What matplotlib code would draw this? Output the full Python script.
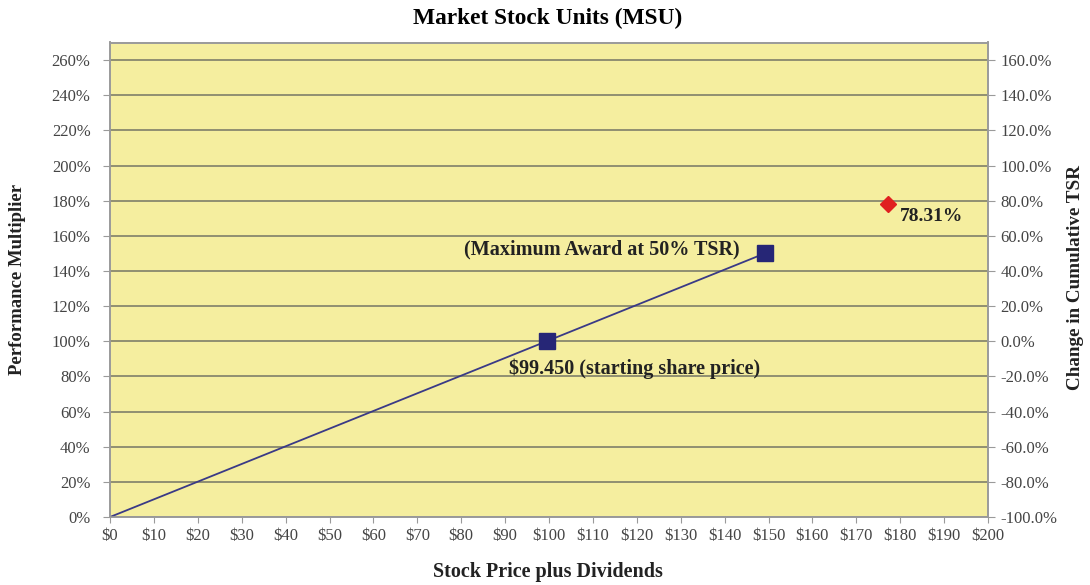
import matplotlib
matplotlib.use("Agg")
import matplotlib.pyplot as plt
import numpy as np

# Data
line_x = [0, 99.45, 149.175]
line_y = [0, 100, 150]
marker_x = [99.45, 149.175]
marker_y = [100, 150]
point_x = [177.3]
point_y = [178.31]
point_label = "78.31%"
start_label = "$99.450 (starting share price)"
max_label = "(Maximum Award at 50% TSR)"
x_ticks = list(range(0, 201, 10))
left_ticks = list(range(0, 261, 20))
right_ticks = list(range(-100, 161, 20))

plt.rcParams['font.family'] = ['Liberation Serif', 'DejaVu Serif']

fig = plt.figure(figsize=(10.9, 5.85), dpi=100)
ax = fig.add_axes([110/1090, 1-517/585, (988-110)/1090, (517-42.5)/585])
ax.set_facecolor('#F5EE9F')
ax.set_xlim(0, 200)
ax.set_ylim(0, 270)
ax.set_yticks(left_ticks)
ax.set_yticklabels([f"{v}%" for v in left_ticks])
ax.set_xticks(x_ticks)
ax.set_xticklabels([f"${v}" for v in x_ticks])
ax.grid(axis='y', color='#7f7f6a', linewidth=1.2)
ax.set_axisbelow(True)
for s in ax.spines.values():
    s.set_color('#9a9a9a')
    s.set_linewidth(1.2)
ax.tick_params(axis='y', direction='out', color='#9a9a9a', labelsize=12,
               labelcolor='#444444', length=5, pad=9)
ax.tick_params(axis='x', direction='out', color='#9a9a9a', labelsize=12,
               labelcolor='#444444', length=4, pad=4)

ax.plot(line_x, line_y, color='#3a3a86', linewidth=1.3, zorder=3)
ax.plot(marker_x, marker_y, linestyle='none', marker='s', markersize=12,
        color='#262676', zorder=4)
ax.plot(point_x, point_y, linestyle='none', marker='D', markersize=8.5,
        color='#e02020', zorder=4)

ax.annotate(start_label, (marker_x[0], marker_y[0]), xytext=(-27, -19.5),
            textcoords='offset points', fontsize=14.5, fontweight='bold',
            color='#222222', ha='left', va='center')
ax.annotate(max_label, (marker_x[1], marker_y[1]), xytext=(-18, 3),
            textcoords='offset points', fontsize=14.5, fontweight='bold',
            color='#222222', ha='right', va='center')
ax.annotate(point_label, (point_x[0], point_y[0]), xytext=(8, -9.4),
            textcoords='offset points', fontsize=14, fontweight='bold',
            color='#222222', ha='left', va='center')

ax2 = ax.twinx()
ax2.set_ylim(-100, 170)
ax2.set_yticks(right_ticks)
ax2.set_yticklabels([f"{v:.1f}%" for v in right_ticks])
ax2.tick_params(axis='y', direction='out', color='#9a9a9a', labelsize=12,
                labelcolor='#444444', length=5, pad=4)
for s in ax2.spines.values():
    s.set_color('#9a9a9a')
    s.set_linewidth(1.2)

fig.text(548/1090, 1-18/585, "Market Stock Units (MSU)", ha='center', va='center',
         fontsize=16.8, fontweight='bold')
fig.text(548/1090, 1-572/585, "Stock Price plus Dividends", ha='center', va='center',
         fontsize=14.5, fontweight='bold', color='#222222')
fig.text(18/1090, 1-279/585, "Performance Multiplier", ha='center', va='center',
         rotation=90, fontsize=13.5, fontweight='bold', color='#222222')
fig.text(1075/1090, 1-278/585, "Change in Cumulative TSR", ha='center', va='center',
         rotation=90, fontsize=13.8, fontweight='bold', color='#222222')

fig.savefig("out.png", dpi=100)
